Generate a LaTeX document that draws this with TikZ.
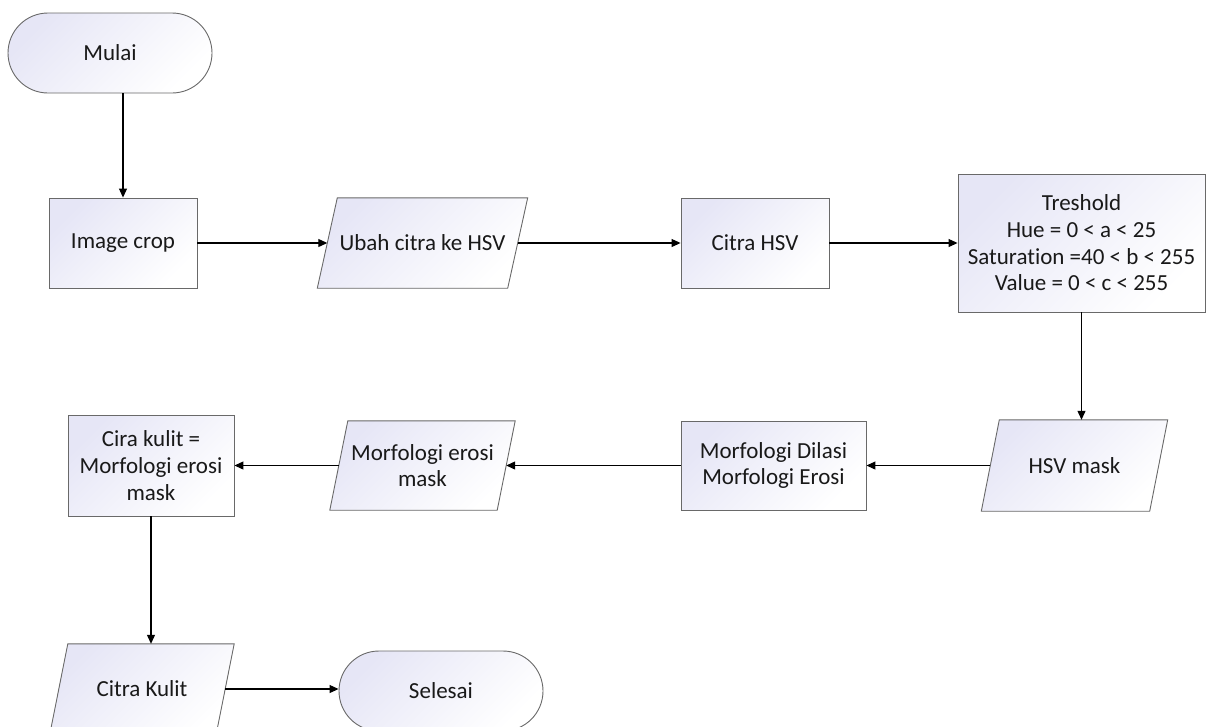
\documentclass[tikz,border=0pt]{standalone}
\usepackage{fontspec}
\setmainfont{Carlito}[Ligatures=NoCommon]
\usetikzlibrary{arrows.meta,backgrounds}
\definecolor{boxline}{RGB}{105,105,105}
\definecolor{boxshade}{RGB}{230,230,246}
\definecolor{txt}{RGB}{25,25,25}

\begin{document}
\begin{tikzpicture}[x=1pt,y=-1pt,
    font=\fontsize{23}{26.7}\selectfont,
    shadefill/.style={draw=boxline,line width=0.9pt,top color=boxshade,bottom color=white,shading angle=45},
    terminal/.style={shadefill,text=txt,rectangle,rounded corners=40pt,minimum width=204pt,minimum height=80pt},
    process/.style={shadefill,text=txt,align=center,rectangle,inner sep=0pt},
    data/.style={rectangle,text=txt,align=center,inner sep=0pt},
    flow/.style={-{Triangle[length=9pt,width=8pt]},line width=1.1pt,black}]
          \useasboundingbox (0,0) rectangle (1206,726);
          \clip (0,0) rectangle (1206,726);
          % top row
          \node[terminal] (mulai) at (110,53) {Mulai};
          \node[process,minimum width=148pt,minimum height=90pt] (crop) at (123,243) {Image crop};
          \node[data,minimum width=190pt,minimum height=90pt] (ubah) at (422.5,243) {Ubah citra ke HSV};
          \node[process,minimum width=148pt,minimum height=90pt] (citrahsv) at (755,243) {Citra HSV};
          \node[process,minimum width=247pt,minimum height=138pt] (thr) at (1081.5,243)
            {Treshold\\Hue = 0 < a < 25\\Saturation =40 < b < 255\\Value = 0 < c < 255};
          % middle row
          \node[data,minimum width=168pt,minimum height=91pt] (mask) at (1074.5,465.5) {HSV mask};
          \node[process,minimum width=185pt,minimum height=89pt] (dilasi) at (773.5,465.5)
            {Morfologi Dilasi\\Morfologi Erosi};
          \node[data,minimum width=167pt,minimum height=89pt] (erosi) at (422.5,465.5)
            {Morfologi erosi\\mask};
          \node[process,minimum width=166pt,minimum height=101pt] (cira) at (151,465.5)
            {Cira kulit =\\Morfologi erosi\\mask};
          % bottom row
          \node[data,minimum width=166pt,minimum height=90pt] (kulit) at (142,689) {Citra Kulit};
          \node[terminal] (selesai) at (441,691) {Selesai};
          % slanted data boxes behind their text
          \begin{scope}[on background layer]
            \foreach \n/\s in {ubah/10,mask/9,erosi/9,kulit/9}
              \draw[shadefill] ([xshift=-\s pt]\n.south west) -- ([xshift=\s pt]\n.north west)
                -- ([xshift=\s pt]\n.north east) -- ([xshift=-\s pt]\n.south east) -- cycle;
          \end{scope}
          % connectors
          \draw[flow] (crop.north |- mulai.south) -- (crop.north);
          \draw[flow] (crop.east) -- (ubah.west);
          \draw[flow] (ubah.east) -- (citrahsv.west);
          \draw[flow] (citrahsv.east) -- (thr.west);
          \draw[flow] (thr.south) -- (thr.south |- mask.north);
          \draw[flow] (mask.west) -- (dilasi.east);
          \draw[flow] (dilasi.west) -- (erosi.east);
          \draw[flow] (erosi.west) -- (cira.east);
          \draw[flow] (cira.south) -- (cira.south |- kulit.north);
          \draw[flow] (kulit.east) -- (kulit.east -| selesai.west);
        \end{tikzpicture}
\end{document}
